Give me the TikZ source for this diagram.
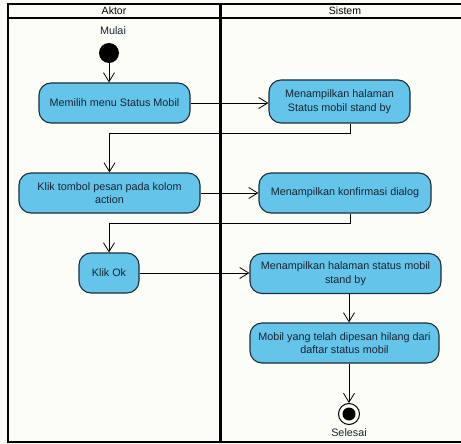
\documentclass[tikz,border=0pt]{standalone}
\usepackage{fontspec}
\setmainfont{Liberation Sans}
\usetikzlibrary{arrows.meta}
\definecolor{actfill}{RGB}{100,196,234}
\definecolor{actline}{RGB}{30,45,60}
\definecolor{ink}{RGB}{25,35,50}
\definecolor{paper}{RGB}{253,253,248}
\begin{document}
\begin{tikzpicture}[x=1pt,y=-1pt,
  action/.style={draw=actline, line width=1.1pt, fill=actfill, rounded corners=12pt,
    minimum height=40pt, align=center, inner sep=2pt,
    font=\fontsize{10.8}{13.5}\selectfont, text=ink},
  flow/.style={draw=black, line width=0.8pt,
    -{Straight Barb[length=9pt,width=11pt,line width=0.8pt]}},
  lane/.style={draw=black, line width=2pt},
  label/.style={font=\fontsize{10.8}{13}\selectfont, text=ink},
  header/.style={font=\fontsize{10.5}{12}\selectfont, text=black}]
\useasboundingbox (0,0) rectangle (461,444);
\clip (0,0) rectangle (461,444);
\fill[paper] (0,0) rectangle (461,444);

% swimlanes
\draw[lane] (8,4) rectangle (220,442);
\draw[lane] (221,4) rectangle (475,442);
\draw[lane] (8,18) -- (475,18);
\node[header] (aktor) at (114,11) {Aktor};
\node[header] (sistem) at (345,11) {Sistem};

% start
\node[label] (mulai) at (113,31) {Mulai};
\node[circle, fill=black, minimum size=20pt, inner sep=0pt] (start) at (109,53) {};

% actions
\node[action, minimum width=151pt] (a1) at (114.5,103) {Memilih menu Status Mobil};
\node[action, minimum width=141pt, minimum height=43pt] (s1) at (339.5,101.5) {Menampilkan halaman\\Status mobil stand by};
\node[action, minimum width=181pt] (a2) at (109.5,193) {Klik tombol pesan pada kolom\\action};
\node[action, minimum width=172pt] (s2) at (345,193) {Menampilkan konfirmasi dialog};
\node[action, minimum width=60pt] (a3) at (109,273) {Klik Ok};
\node[action, minimum width=191pt] (s3) at (345.5,273.5) {Menampilkan halaman status mobil\\stand by};
\node[action, minimum width=189pt] (s4) at (344.5,343) {Mobil yang telah dipesan hilang dari\\daftar status mobil};

% end
\node[circle, draw=black, line width=1pt, minimum size=21pt, inner sep=0pt] (end) at (349,414) {};
\node[circle, fill=black, minimum size=13pt, inner sep=0pt] (endcore) at (end.center) {};
\node[label] (selesai) at (349,433) {Selesai};

% control flow
\coordinate (k1) at (0,133);
\coordinate (k2) at (0,223);
\draw[flow] (start.south) -- (start.south |- a1.north);
\draw[flow] (a1.east) -- (a1.east -| s1.west);
\draw[flow] ([xshift=10.5pt]s1.south) |- (a2.north |- k1) -- (a2.north);
\draw[flow] (a2.east) -- (a2.east -| s2.west);
\draw[flow] ([xshift=5pt]s2.south) |- (a3.north |- k2) -- (a3.north);
\draw[flow] (a3.east) -- (a3.east -| s3.west);
\draw[flow] (s3.south -| end.center) -- (s4.north -| end.center);
\draw[flow] (s4.south -| end.center) -- (end.north);
\end{tikzpicture}
\end{document}
